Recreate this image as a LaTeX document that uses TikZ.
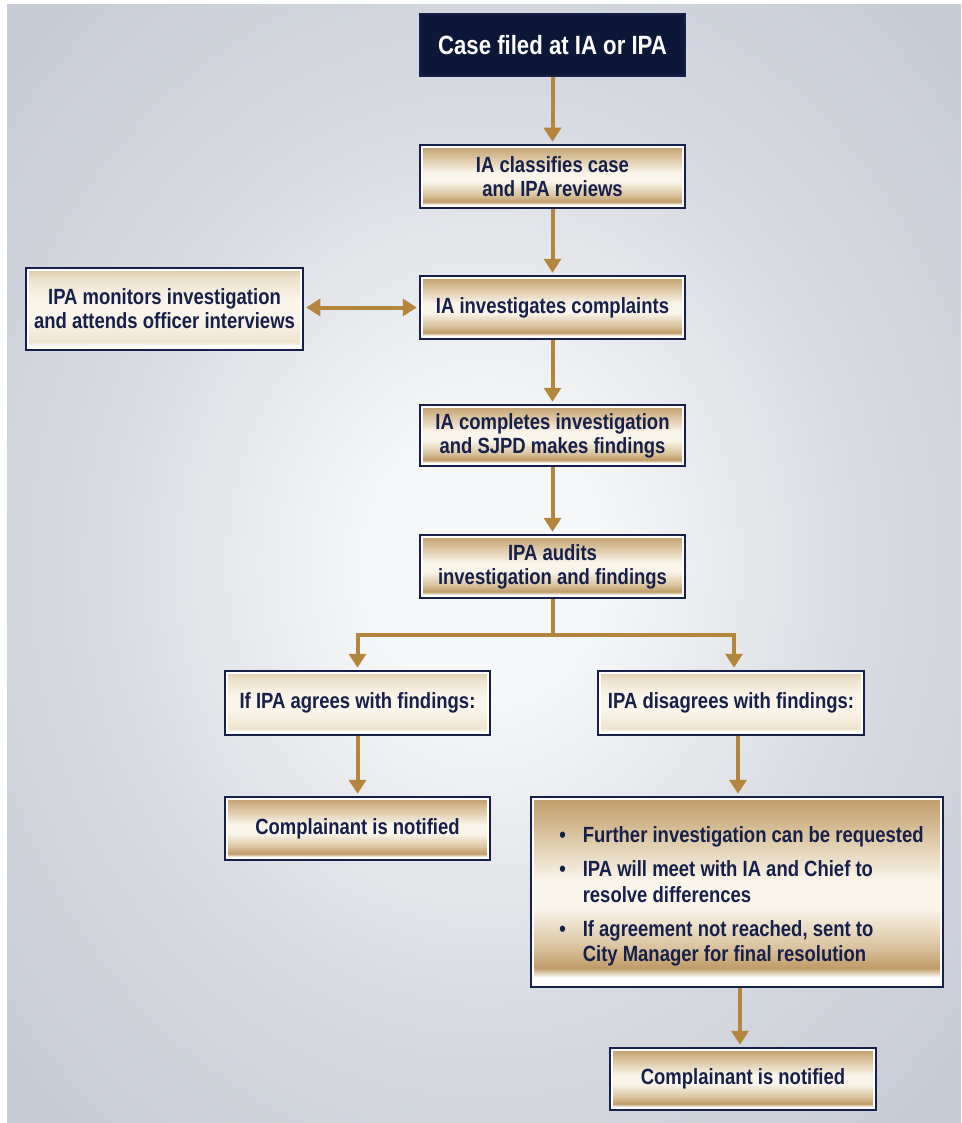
\documentclass[tikz,border=0pt]{standalone}
\usepackage{fontspec}
\setmainfont{Liberation Sans}[FakeStretch=0.84]
\usetikzlibrary{arrows.meta,calc}
\definecolor{navy}{HTML}{17204A}
\definecolor{boxnavy}{HTML}{0D1737}
\definecolor{arrowgold}{HTML}{B3853D}
\definecolor{gT}{HTML}{BF9B68}
\definecolor{gM}{HTML}{D8C09A}
\definecolor{gP}{HTML}{FAF5EB}
\definecolor{pT}{HTML}{DCC8A6}
\definecolor{pM}{HTML}{EEE3CF}
\definecolor{bgC}{HTML}{F6F7F8}
\definecolor{bgM}{HTML}{D8DBE1}
\definecolor{bgE}{HTML}{C8CCD5}
\pgfdeclareverticalshading{goldshade}{100bp}{color(0bp)=(white); color(25bp)=(white); color(27.5bp)=(white); color(30bp)=(gT); color(35bp)=(gM); color(46bp)=(gP); color(53bp)=(gP); color(66bp)=(gM); color(75bp)=(gT); color(100bp)=(gT)}
\pgfdeclareverticalshading{paleshade}{100bp}{color(0bp)=(white); color(25bp)=(white); color(27.5bp)=(white); color(30bp)=(pM); color(45bp)=(gP); color(55bp)=(gP); color(68bp)=(pM); color(75bp)=(pT); color(100bp)=(pT)}
\pgfdeclareradialshading{bgshade}{\pgfpoint{0bp}{0bp}}{color(0bp)=(bgC); color(6bp)=(bgC); color(20bp)=(bgM); color(33bp)=(bgE); color(50bp)=(bgE)}
\tikzset{
  innerline/.style={path picture={\draw[white, line width=1.1pt]
    ([shift={(2pt,-2pt)}]path picture bounding box.north west) rectangle
    ([shift={(-2pt,2pt)}]path picture bounding box.south east);}},
  box/.style={draw=navy, line width=2.5pt, shading=goldshade, innerline, minimum width=265pt,
    minimum height=63pt, inner sep=0pt, align=center, text=navy,
    font=\fontsize{22}{24}\selectfont\bfseries},
  palebox/.style={box, shading=paleshade},
  topbox/.style={draw=navy, line width=2pt, fill=boxnavy, minimum width=265pt,
    minimum height=62pt, inner sep=0pt, align=center, text=white,
    font=\fontsize{26.4}{30}\selectfont\bfseries},
  tip/.style={-{Triangle[width=17pt,length=14pt]}},
  flow/.style={draw=arrowgold, line width=4pt, tip, shorten >=2pt},
  dflow/.style={draw=arrowgold, line width=4pt, {Triangle[width=17pt,length=14pt]}-{Triangle[width=17pt,length=14pt]}, shorten >=2pt, shorten <=2pt},
  trunk/.style={draw=arrowgold, line width=4pt}
}
\begin{document}
\begin{tikzpicture}[x=1pt,y=-1pt]
\useasboundingbox (0,0) rectangle (961,1123);
\fill[white] (0,0) rectangle (961,1123);
\shade[shading=bgshade] (7,5) rectangle (961,1123);

\node[topbox] (top) at (552.5,45) {Case filed at IA or IPA};
\node[box] (b2) at (552.5,176.5) {IA classifies case\\and IPA reviews};
\node[box] (b3) at (552.5,307.5) {IA investigates complaints};
\node[palebox, minimum width=277pt, minimum height=82pt] (mon) at (164.5,309) {IPA monitors investigation\\and attends officer interviews};
\node[box, minimum height=61pt] (b4) at (552.5,435.5) {IA completes investigation\\and SJPD makes findings};
\node[box] (b5) at (552.5,566.5) {IPA audits\\investigation and findings};
\node[palebox, minimum height=64pt] (agree) at (357.5,703) {If IPA agrees with findings:};
\node[palebox, minimum width=266pt, minimum height=64pt] (disagree) at (731,703) {IPA disagrees with findings:};
\node[box] (notL) at (357.5,828.5) {Complainant is notified};
\node[box, minimum width=412pt, minimum height=190pt, font=\fontsize{22}{25.5}\selectfont\bfseries] (big) at (737,892) {%
\raisebox{-5pt}[\height][\depth]{%
\begin{tabular}{@{\hspace{9pt}}l@{\hspace{17pt}}l@{}}
\textbullet & Further investigation can be requested\\[8.5pt]
\textbullet & IPA will meet with IA and Chief to\\
 & resolve differences\\[8.5pt]
\textbullet & If agreement not reached, sent to\\
 & City Manager for final resolution
\end{tabular}}};
\node[box, minimum width=266pt, minimum height=62pt] (notR) at (743,1079) {Complainant is notified};

\draw[flow] (top.south) -- (b2.north);
\draw[flow] (b2.south) -- (b3.north);
\draw[dflow] (mon.east |- b3.west) -- (b3.west);
\draw[flow] (b3.south) -- (b4.north);
\draw[flow] (b4.south) -- (b5.north);
\coordinate (j) at ($(b5.south)+(0,36)$);
\draw[trunk] (b5.south) -- (j);
\draw[flow] (j) -| (agree.north);
\draw[flow] (j) -| ([xshift=3pt]disagree.north);
\draw[flow] (agree.south) -- (notL.north);
\draw[flow] ([xshift=7pt]disagree.south) -- ([xshift=7pt]disagree.south |- big.north);
\draw[flow] ([xshift=3pt]big.south) -- ([xshift=3pt]big.south |- notR.north);
\end{tikzpicture}
\end{document}
